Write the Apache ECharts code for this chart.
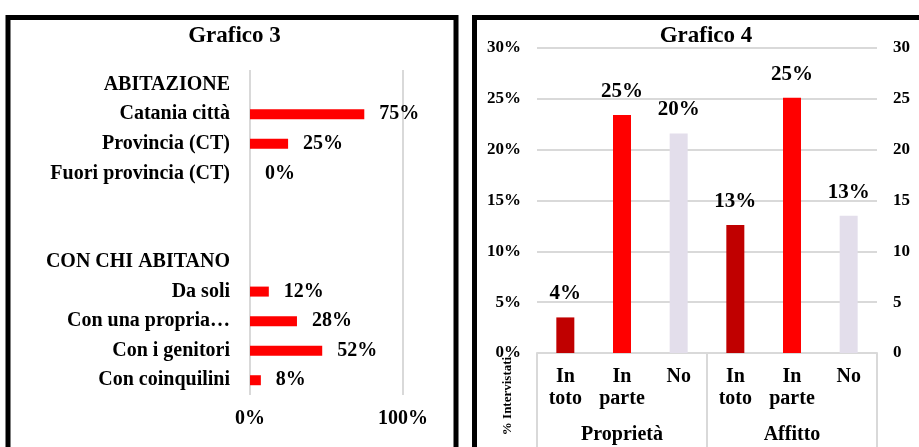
<!DOCTYPE html>
<html>
<head>
<meta charset="utf-8">
<script src="https://cdn.jsdelivr.net/npm/echarts@6/dist/echarts.min.js"></script>
<style>
html,body{margin:0;padding:0;background:#fff;}
#chart{width:919px;height:447px;}
</style>
</head>
<body>
<div id="chart"></div>
<script>
// ---- Grafico 3 data ----
const categories3 = ['ABITAZIONE', 'Catania città', 'Provincia (CT)', 'Fuori provincia (CT)', ' ', '  ',
  'CON CHI ABITANO', 'Da soli', 'Con una propria…', 'Con i genitori', 'Con coinquilini'];
const values3 = [null, 74.7, 24.9, 0, null, null, null, 12.3, 30.7, 47.2, 7.1];
const labels3 = ['', '75%', '25%', '0%', '', '', '', '12%', '28%', '52%', '8%'];
const ticks3 = [0, 100];

// ---- Grafico 4 data ----
const categories4 = ['In\ntoto', 'In\nparte', 'No', 'In\ntoto', 'In\nparte', 'No'];
const groups4 = ['Proprietà', 'Affitto'];
const values4 = [3.5, 23.4, 21.6, 12.6, 25.1, 13.5];
const labels4 = ['4%', '25%', '20%', '13%', '25%', '13%'];

const FONT = '"Liberation Serif", "Times New Roman", serif';
const palette4 = ['#C00000', '#FF0000', '#E3DEEB'];
const GRID = '#D9D9D9';

const chart = echarts.init(document.getElementById('chart'));
const txt = (size, extra) => Object.assign({fontSize: size, fontWeight: 'bold', color: '#000', fontFamily: FONT}, extra || {});

chart.setOption({
  animation: false,
  textStyle: {fontFamily: FONT},
  grid: [
    {left: 250, right: 516, top: 70, bottom: 52},
    {left: 537, right: 42, top: 48, bottom: 94}
  ],
  xAxis: [
    {gridIndex: 0, type: 'value', min: ticks3[0], max: ticks3[1], interval: 100,
      axisLabel: txt(20, {formatter: '{value}%', margin: 14}),
      splitLine: {lineStyle: {color: GRID, width: 2}},
      axisLine: {show: false}, axisTick: {show: false}},
    {gridIndex: 1, type: 'category', data: categories4, position: 'bottom',
      axisLabel: txt(20, {lineHeight: 22, margin: 13, interval: 0}),
      axisTick: {show: false}, axisLine: {show: false}},
    {gridIndex: 1, type: 'category', data: groups4, position: 'bottom',
      axisLabel: txt(20, {lineHeight: 22, margin: 71, interval: 0}),
      axisTick: {show: true, length: 110, lineStyle: {color: GRID, width: 2}},
      axisLine: {show: true, onZero: false, lineStyle: {color: GRID, width: 2}}}
  ],
  yAxis: [
    {gridIndex: 0, type: 'category', inverse: true, data: categories3,
      axisLabel: txt(20, {margin: 20, interval: 0}),
      axisTick: {show: false}, axisLine: {show: false}},
    {gridIndex: 1, type: 'value', min: 0, max: 30, interval: 5, position: 'left',
      axisLabel: txt(17, {formatter: '{value}%', margin: 16}),
      splitLine: {lineStyle: {color: GRID, width: 2}},
      axisLine: {show: false}, axisTick: {show: false}},
    {gridIndex: 1, type: 'value', min: 0, max: 30, interval: 5, position: 'right',
      axisLabel: txt(17, {margin: 16}),
      splitLine: {show: false}, axisLine: {show: false}, axisTick: {show: false}}
  ],
  series: [
    {type: 'bar', xAxisIndex: 0, yAxisIndex: 0, data: values3, barWidth: 10,
      itemStyle: {color: '#FF0000'},
      label: {show: true, position: 'right', distance: 15,
        formatter: p => labels3[p.dataIndex], fontSize: 20, fontWeight: 'bold', color: '#000', fontFamily: FONT}},
    {type: 'bar', xAxisIndex: 1, yAxisIndex: 1, data: values4, barWidth: 18,
      itemStyle: {color: p => palette4[p.dataIndex % 3]},
      label: {show: true, position: 'top', distance: 13,
        formatter: p => labels4[p.dataIndex], fontSize: 21, fontWeight: 'bold', color: '#000', fontFamily: FONT}}
  ],
  graphic: [
    {type: 'rect', shape: {x: 8, y: 17.5, width: 448, height: 460},
      style: {fill: null, stroke: '#000', lineWidth: 5}},
    {type: 'rect', shape: {x: 474.5, y: 17.5, width: 470, height: 460},
      style: {fill: null, stroke: '#000', lineWidth: 5}},
    {type: 'text', x: 234.5, y: 36, style: {text: 'Grafico 3', align: 'center', verticalAlign: 'middle',
      font: 'bold 23px ' + FONT, fill: '#000'}},
    {type: 'text', x: 706, y: 36, style: {text: 'Grafico 4', align: 'center', verticalAlign: 'middle',
      font: 'bold 23px ' + FONT, fill: '#000'}},
    {type: 'text', x: 508, y: 396, rotation: Math.PI / 2, style: {text: '% Intervistati', align: 'center',
      verticalAlign: 'middle', font: 'bold 13px ' + FONT, fill: '#000'}}
  ]
});
</script>
</body>
</html>
